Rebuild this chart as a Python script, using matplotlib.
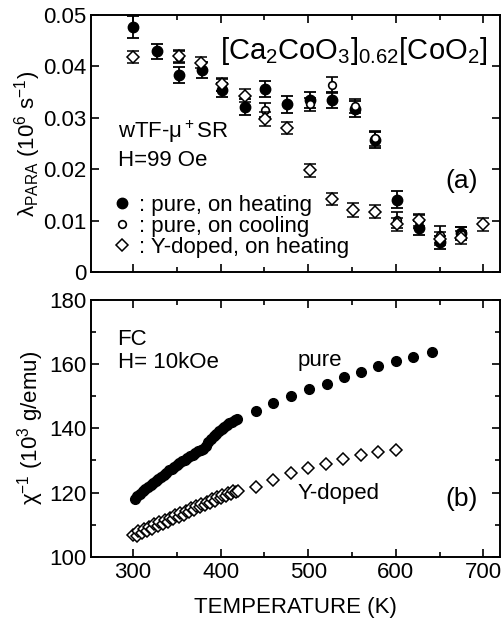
import matplotlib
matplotlib.use('Agg')
import matplotlib.pyplot as plt
from matplotlib.ticker import MultipleLocator

plt.rcParams['font.family'] = ['Liberation Sans', 'DejaVu Sans']
plt.rcParams['mathtext.fontset'] = 'custom'
plt.rcParams['mathtext.rm'] = 'Liberation Sans'
plt.rcParams['mathtext.it'] = 'Liberation Sans:italic'
plt.rcParams['font.size'] = 16

# (a) muSR relaxation rate
t_heat = [300, 327, 352, 379, 402, 428, 451, 476, 502, 527, 553, 576, 601, 626, 650, 675]
lam_heat = [0.0477, 0.0429, 0.0383, 0.0393, 0.0354, 0.0321, 0.0356, 0.0326, 0.0335, 0.0335,
            0.0317, 0.0257, 0.0141, 0.0086, 0.0058, 0.0076]
err_heat = [0.0021, 0.0015, 0.0016, 0.0015, 0.0013, 0.0015, 0.0016, 0.0016, 0.0016, 0.0016,
            0.0015, 0.0015, 0.0017, 0.0014, 0.0013, 0.0012]

t_cool = [352, 402, 451, 502, 527, 553, 576, 601, 626, 650, 675]
lam_cool = [0.0418, 0.0364, 0.0315, 0.0326, 0.0364, 0.0323, 0.0260, 0.0102, 0.0099, 0.0073, 0.0075]
err_cool = [0.0012, 0.0012, 0.0014, 0.0013, 0.0015, 0.0013, 0.0014, 0.0016, 0.0013, 0.0016, 0.0013]

t_ydop = [300, 352, 377, 402, 428, 451, 476, 502, 527, 551, 576, 601, 626, 650, 675, 700]
lam_ydop = [0.0418, 0.0420, 0.0407, 0.0365, 0.0343, 0.0298, 0.0280, 0.0198, 0.0142, 0.0121,
            0.0118, 0.0093, 0.0101, 0.0065, 0.0067, 0.0093]
err_ydop = [0.0012, 0.0011, 0.0011, 0.0012, 0.0013, 0.0013, 0.0012, 0.0012, 0.0012, 0.0013,
            0.0012, 0.0012, 0.0012, 0.0013, 0.0013, 0.0012]

# (b) inverse susceptibility, pure
t_pure = [302, 305, 308, 311, 314, 317, 320, 323, 326, 329, 332, 335, 338, 341, 344, 347,
          350, 353, 356, 359, 362, 365, 368, 371, 374, 377, 380, 383, 386, 389, 392, 395,
          398, 401, 404, 407, 410, 413, 416, 419,
          440, 460, 480, 501, 521, 541, 560, 580, 600, 620, 641]
chi_pure = [118.1, 118.9, 119.6, 120.4, 121.1, 121.8, 122.5, 123.1, 123.6, 124.2, 124.9, 125.5,
            126.2, 126.9, 127.5, 128.1, 128.7, 129.2, 129.7, 130.3, 130.8, 131.3, 131.8, 132.3,
            132.8, 133.2, 133.7, 134.6, 135.6, 136.6, 137.5, 138.3, 139.2, 139.9, 140.5, 141.1,
            141.6, 142.1, 142.5, 142.8,
            145.5, 147.9, 150.2, 152.2, 153.9, 156.0, 157.5, 159.3, 160.8, 162.2, 163.7]

# (b) inverse susceptibility, Y-doped
t_yd = [300, 304, 306, 310, 312, 316, 318, 322, 324, 328, 330, 334, 336, 340, 342, 346,
        348, 352, 354, 358, 360, 364, 366, 370, 372, 376, 378, 382, 384, 388, 390, 394,
        396, 400, 402, 406, 408, 412, 414, 418,
        420, 440, 460, 480, 500, 520, 540, 560, 580, 600]
chi_yd = [106.9, 106.5, 108.0, 107.3, 108.7, 108.0, 109.4, 108.8, 110.1, 109.5, 110.8, 110.3,
          111.5, 111.0, 112.2, 111.7, 112.9, 112.5, 113.6, 113.2, 114.3, 113.9, 115.1, 114.7,
          115.8, 115.4, 116.5, 116.1, 117.2, 116.8, 117.9, 117.5, 118.6, 118.3, 119.3, 119.0,
          120.0, 119.6, 120.6, 120.2,
          120.4, 121.8, 124.0, 126.1, 127.7, 129.0, 130.5, 131.7, 132.5, 133.4]

fig = plt.figure(figsize=(5.03, 6.23), dpi=100)
ax1 = fig.add_axes([0.181, 0.563, 0.813, 0.413])
ax2 = fig.add_axes([0.181, 0.106, 0.813, 0.413])

eb1 = ax1.errorbar(t_heat, lam_heat, yerr=err_heat, fmt='o', color='black', ms=7.5,
                   capsize=4, elinewidth=1.3, capthick=1.3, zorder=3)
eb2 = ax1.errorbar(t_cool, lam_cool, yerr=err_cool, fmt='o', mfc='white', mec='black', ms=5.5,
                   mew=1.2, color='black', capsize=4, elinewidth=1.3, capthick=1.3, zorder=4)
eb3 = ax1.errorbar(t_ydop, lam_ydop, yerr=err_ydop, fmt='D', mfc='white', mec='black', ms=6.5,
                   mew=1.1, color='black', capsize=4, elinewidth=1.3, capthick=1.3, zorder=5)

ax1.legend(handles=[eb1[0], eb2[0], eb3[0]], labels=[': pure, on heating', ': pure, on cooling',
           ': Y-doped, on heating'], loc='lower left', bbox_to_anchor=(0.055, 0.055),
           frameon=False, handlelength=0.8, handletextpad=0.35, labelspacing=0.0,
           borderpad=0, borderaxespad=0, fontsize=16)

ax1.set_xlim(252, 719)
ax1.set_ylim(0, 0.05)
ax1.set_yticks([0, 0.01, 0.02, 0.03, 0.04, 0.05])
ax1.set_yticklabels(['0', '0.01', '0.02', '0.03', '0.04', '0.05'])
ax1.xaxis.set_major_locator(MultipleLocator(100))
ax1.xaxis.set_minor_locator(MultipleLocator(50))
ax1.tick_params(labelbottom=False)
ax1.set_ylabel('λ$_{\\rm PARA}$ (10$^6$ s$^{-1}$)', labelpad=0)

ax1.text(0.97, 0.86, '[Ca$_2$CoO$_3$]$_{0.62}$[CoO$_2$]', transform=ax1.transAxes,
         ha='right', va='center', fontsize=21)
ax1.text(0.065, 0.545, 'wTF-μ$^+$SR', transform=ax1.transAxes, ha='left', va='center')
ax1.text(0.065, 0.435, 'H=99 Oe', transform=ax1.transAxes, ha='left', va='center')
ax1.text(0.945, 0.355, '(a)', transform=ax1.transAxes, ha='right', va='center', fontsize=19)

ax2.plot(t_pure, chi_pure, 'o', color='black', ms=7)
ax2.plot(t_yd, chi_yd, 'D', mfc='white', mec='black', ms=6, mew=1.1)
ax2.set_xlim(252, 719)
ax2.set_ylim(100, 180)
ax2.xaxis.set_major_locator(MultipleLocator(100))
ax2.xaxis.set_minor_locator(MultipleLocator(50))
ax2.yaxis.set_major_locator(MultipleLocator(20))
ax2.yaxis.set_minor_locator(MultipleLocator(10))
ax2.set_xlabel('TEMPERATURE (K)', labelpad=10)
ax2.set_ylabel('χ$^{-1}$ (10$^3$ g/emu)', labelpad=2)

ax2.text(0.065, 0.845, 'FC', transform=ax2.transAxes, ha='left', va='center')
ax2.text(0.065, 0.755, 'H= 10kOe', transform=ax2.transAxes, ha='left', va='center')
ax2.text(0.505, 0.765, 'pure', transform=ax2.transAxes, ha='left', va='center')
ax2.text(0.505, 0.245, 'Y-doped', transform=ax2.transAxes, ha='left', va='center')
ax2.text(0.945, 0.225, '(b)', transform=ax2.transAxes, ha='right', va='center', fontsize=19)

for ax in (ax1, ax2):
    ax.tick_params(which='both', direction='in', top=True, right=True, width=1.2)
    ax.tick_params(which='major', length=6)
    ax.tick_params(which='minor', length=3.5)
    for s in ax.spines.values():
        s.set_linewidth(1.4)

fig.savefig('out.png', dpi=100)
